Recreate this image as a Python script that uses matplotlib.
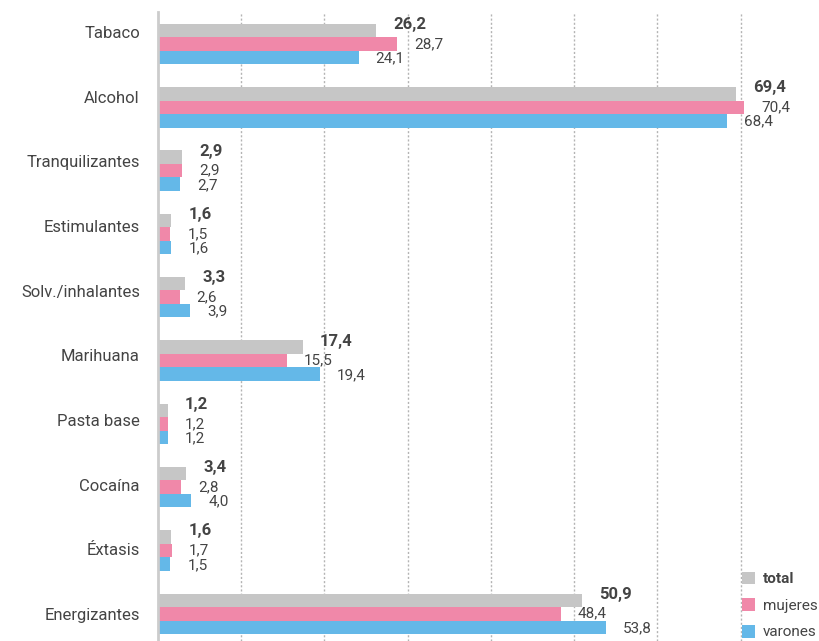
import matplotlib.pyplot as plt
import numpy as np

plt.rcParams['font.family'] = ['Roboto', 'DejaVu Sans']

categorias = ["Tabaco", "Alcohol", "Tranquilizantes", "Estimulantes", "Solv./inhalantes",
              "Marihuana", "Pasta base", "Cocaína", "Éxtasis", "Energizantes"]
total = [26.2, 69.4, 2.9, 1.6, 3.3, 17.4, 1.2, 3.4, 1.6, 50.9]
mujeres = [28.7, 70.4, 2.9, 1.5, 2.6, 15.5, 1.2, 2.8, 1.7, 48.4]
varones = [24.1, 68.4, 2.7, 1.6, 3.9, 19.4, 1.2, 4.0, 1.5, 53.8]

c_total = '#c6c6c6'
c_muj = '#f088a9'
c_var = '#64b8e8'
txt = '#444444'

fig = plt.figure(figsize=(8.2, 6.41), dpi=100)
ax = fig.add_axes([158 / 820, 0, 1 - 158 / 820, 1 - 12 / 641])

y = np.arange(len(categorias))
h = 0.213

# grid punteada
for g in range(10, 80, 10):
    ax.axvline(g, color='#b4b4b4', linestyle=(0, (1.5, 1.5)), linewidth=1.0, zorder=0)

ax.barh(y - h, total, height=h, color=c_total, label='total', zorder=2)
ax.barh(y, mujeres, height=h, color=c_muj, label='mujeres', zorder=2)
ax.barh(y + h, varones, height=h, color=c_var, label='varones', zorder=2)

def fmt(v):
    return f"{v:.1f}".replace('.', ',')

# etiquetas de valores
for i in range(len(categorias)):
    ax.annotate(fmt(total[i]), (total[i], y[i] - h), xytext=(17, 6), textcoords='offset pixels',
                ha='left', va='center', fontsize=12, fontweight='bold', color=txt)
    ax.annotate(fmt(mujeres[i]), (mujeres[i], y[i]), xytext=(17, 0), textcoords='offset pixels',
                ha='left', va='center', fontsize=11, color=txt)
    ax.annotate(fmt(varones[i]), (varones[i], y[i] + h), xytext=(17, -1), textcoords='offset pixels',
                ha='left', va='center', fontsize=11, color=txt)

ax.set_xlim(0, 662 / 8.325)
ax.set_ylim(9.43, -0.505)
# the category labels sit on their own even spacing (slightly off the bar groups)
ax.set_yticks(np.linspace((32 - 44) / 63.33, (614 - 44) / 63.33, len(categorias)))
ax.set_yticklabels(categorias, fontsize=12, color=txt)
ax.tick_params(axis='y', length=0, pad=13)
ax.set_xticks([])

for s in ['top', 'right', 'bottom']:
    ax.spines[s].set_visible(False)
ax.spines['left'].set_color('#cccccc')
ax.spines['left'].set_linewidth(2)

leg = fig.legend(loc='lower left', bbox_to_anchor=(740 / 820, 0.0), frameon=False, fontsize=11,
                 handlelength=0.9, handleheight=0.9, labelspacing=0.78, handletextpad=0.5,
                 borderaxespad=0.0, borderpad=0.1)
for t in leg.get_texts():
    t.set_color(txt)
leg.get_texts()[0].set_fontweight('bold')

fig.savefig('out.png', dpi=100)
